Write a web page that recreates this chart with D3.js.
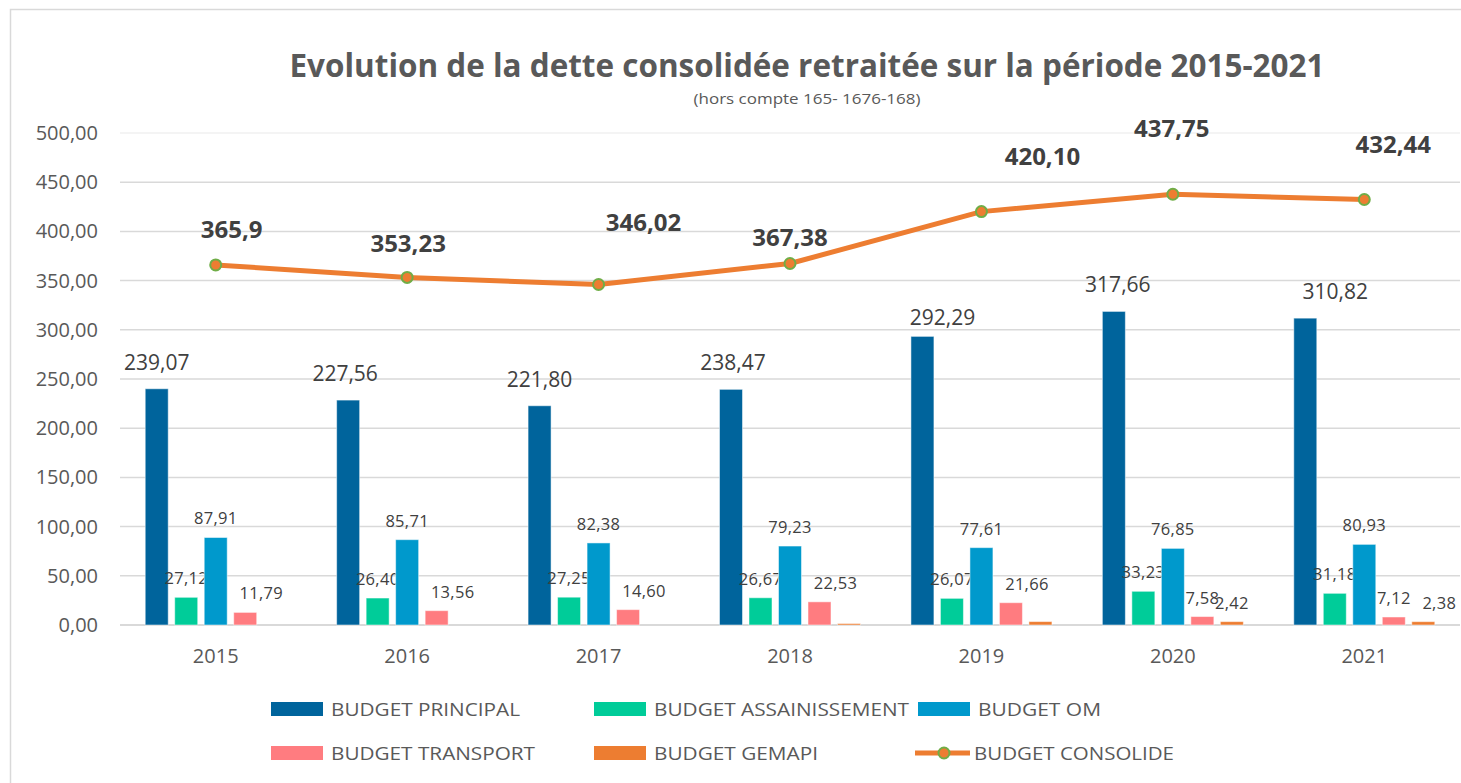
<!DOCTYPE html>
<html>
<head>
<meta charset="utf-8">
<script src="https://cdn.jsdelivr.net/npm/d3@7"></script>
<style>
  body { margin: 0; background: #fff; }
  text { font-family: "Open Sans", "Noto Sans", sans-serif; }
</style>
</head>
<body>
<svg id="chart" width="1461" height="783"></svg>
<script>
// values
var years = ['2015', '2016', '2017', '2018', '2019', '2020', '2021'];
var principal = [239.07, 227.56, 221.80, 238.47, 292.29, 317.66, 310.82];
var assainissement = [27.12, 26.40, 27.25, 26.67, 26.07, 33.23, 31.18];
var om = [87.91, 85.71, 82.38, 79.23, 77.61, 76.85, 80.93];
var transport = [11.79, 13.56, 14.60, 22.53, 21.66, 7.58, 7.12];
var gemapi = [0, 0, 0, 0.48, 2.47, 2.42, 2.38];
var gemapiShown = [false, false, false, false, false, true, true];
var consolide = [365.9, 353.23, 346.02, 367.38, 420.10, 437.75, 432.44];
var consolideText = ['365,9', '353,23', '346,02', '367,38', '420,10', '437,75', '432,44'];
var yTicks = [0, 50, 100, 150, 200, 250, 300, 350, 400, 450, 500];

// hand placement of some labels, as dragged in the original (px offsets)
var consLabelNudge = [[16, -35], [1, -34], [45, -62], [0, -26], [61, -55], [-1, -66], [29, -55]];
var principalLabelNudge = [[0, 0], [-3, 0], [0, 0], [2, 0], [20, 8], [4, 0], [30, 0]];
var gemapiLabelNudge = [0, 0, 0, 0, 0, 0, 16];

var series = [
  { name: 'BUDGET PRINCIPAL', values: principal, color: '#00649c' },
  { name: 'BUDGET ASSAINISSEMENT', values: assainissement, color: '#00cc99' },
  { name: 'BUDGET OM', values: om, color: '#0099cc' },
  { name: 'BUDGET TRANSPORT', values: transport, color: '#ff7c80' },
  { name: 'BUDGET GEMAPI', values: gemapi, color: '#ed7d31' }
];

var svg = d3.select('#chart');
var comma = function(v) { return d3.format('.2f')(v).replace('.', ','); };

svg.append('rect')
    .attr('x', 10.5).attr('y', 9.5)
    .attr('width', 1470).attr('height', 790)
    .attr('fill', '#fff').attr('stroke', '#d9d9d9').attr('stroke-width', 1.5);

var x = d3.scaleBand().domain(years).range([120, 1460]);
var y = d3.scaleLinear().domain([0, 500]).range([625, 133]);

// grid
svg.append('g').selectAll('line')
    .data(yTicks)
    .join('line')
    .attr('x1', 120).attr('x2', 1460)
    .attr('y1', d => y(d)).attr('y2', d => y(d))
    .attr('stroke', d => d === 500 ? '#f0f0f0' : '#d9d9d9')
    .attr('stroke-width', d => d === 0 ? 2 : 1.5);

// y axis labels
svg.append('g').selectAll('text')
    .data(yTicks)
    .join('text')
    .attr('x', 98).attr('y', d => y(d))
    .attr('dy', '0.35em')
    .attr('text-anchor', 'end')
    .style('font-size', '20px')
    .style('fill', '#595959')
    .text(comma);

// x axis labels
svg.append('g').selectAll('text')
    .data(years)
    .join('text')
    .attr('x', d => x(d) + x.bandwidth() / 2)
    .attr('y', 663)
    .attr('text-anchor', 'middle')
    .style('font-size', '20px')
    .style('fill', '#595959')
    .text(d => d);

var step = 29.5, barW = 23;
var center = function(i) { return x(years[i]) + x.bandwidth() / 2; };

series.forEach(function(s, k) {
  var g = svg.append('g');
  var off = (k - 2) * step;
  var pts = s.values.map((v, i) => ({ v: v, i: i }));

  g.selectAll('rect')
      .data(pts)
      .join('rect')
      .attr('x', d => center(d.i) + off - barW / 2)
      .attr('width', barW)
      .attr('y', d => y(d.v) - (d.v > 0 ? 1 : 0))
      .attr('height', d => d.v > 0 ? y(0) - y(d.v) + 1 : 0)
      .attr('fill', s.color)
      .attr('stroke', d => d.v > 0 ? '#fff' : 'none')
      .attr('stroke-opacity', 0.5)
      .attr('stroke-width', 1);

  g.selectAll('text')
      .data(pts.filter(d => d.v > 0 && (k !== 4 || gemapiShown[d.i])))
      .join('text')
      .attr('x', function(d) {
        var shift = 0;
        // transport labels sit a bit to the right when no gemapi label follows
        if (k === 3 && !gemapiShown[d.i]) shift = 16;
        if (k === 0) shift = principalLabelNudge[d.i][0];
        if (k === 4) shift = gemapiLabelNudge[d.i];
        return center(d.i) + off + shift;
      })
      .attr('y', d => y(d.v) - (k === 0 ? 20 - principalLabelNudge[d.i][1] : 14))
      .attr('text-anchor', 'middle')
      .style('font-size', k === 0 ? '21px' : '16.5px')
      .style('letter-spacing', k === 0 ? '0px' : '0.3px')
      .style('fill', '#404040')
      .text(d => comma(d.v));
});

// consolidated line
var line = d3.line()
    .x((d, i) => center(i))
    .y(d => y(d));

svg.append('path')
    .datum(consolide)
    .attr('d', line)
    .attr('fill', 'none')
    .attr('stroke', '#ed7d31')
    .attr('stroke-width', 5)
    .attr('stroke-linejoin', 'round');

svg.append('g').selectAll('circle')
    .data(consolide)
    .join('circle')
    .attr('cx', (d, i) => center(i))
    .attr('cy', d => y(d))
    .attr('r', 5.5)
    .attr('fill', '#ed7d31')
    .attr('stroke', '#70ad47')
    .attr('stroke-width', 2);

svg.append('g').selectAll('text')
    .data(consolide)
    .join('text')
    .attr('x', (d, i) => center(i) + consLabelNudge[i][0])
    .attr('y', (d, i) => y(d) + consLabelNudge[i][1])
    .attr('dy', '0.35em')
    .attr('text-anchor', 'middle')
    .style('font-size', '24px')
    .style('font-weight', 'bold')
    .style('fill', '#404040')
    .text((d, i) => consolideText[i]);

// title
svg.append('text')
    .attr('x', 807).attr('y', 77)
    .attr('text-anchor', 'middle')
    .attr('textLength', 1035)
    .attr('lengthAdjust', 'spacingAndGlyphs')
    .style('font-size', '33px')
    .style('font-weight', 'bold')
    .style('fill', '#595959')
    .text('Evolution de la dette consolidée retraitée sur la période 2015-2021');

svg.append('text')
    .attr('x', 807).attr('y', 104)
    .attr('text-anchor', 'middle')
    .attr('textLength', 227)
    .attr('lengthAdjust', 'spacingAndGlyphs')
    .style('font-size', '14px')
    .style('fill', '#595959')
    .text('(hors compte 165- 1676-168)');

// legend
var legendItems = series.concat([{ name: 'BUDGET CONSOLIDE', color: '#ed7d31', isLine: true }]);
var legendX = [271, 594, 918];
var legendY = [709, 753];
var legendW = [189, 255, 123, 204, 164, 200];

var lg = svg.append('g').selectAll('g')
    .data(legendItems)
    .join('g')
    .attr('transform', (d, i) => 'translate(' + legendX[i % 3] + ',' + legendY[Math.floor(i / 3)] + ')');

lg.filter(d => !d.isLine).append('rect')
    .attr('x', 0).attr('y', -7)
    .attr('width', 52).attr('height', 14)
    .attr('fill', d => d.color);

var lineItem = lg.filter(d => d.isLine);
lineItem.append('line')
    .attr('x1', -3).attr('x2', 52)
    .attr('stroke', '#ed7d31').attr('stroke-width', 5);
lineItem.append('circle')
    .attr('cx', 26).attr('r', 5.5)
    .attr('fill', '#ed7d31').attr('stroke', '#70ad47').attr('stroke-width', 2);

lg.append('text')
    .attr('x', d => d.isLine ? 56 : 60)
    .attr('y', 0)
    .attr('dy', '0.36em')
    .attr('textLength', (d, i) => legendW[i])
    .attr('lengthAdjust', 'spacingAndGlyphs')
    .style('font-size', '19px')
    .style('fill', '#595959')
    .text(d => d.name);
</script>
</body>
</html>
